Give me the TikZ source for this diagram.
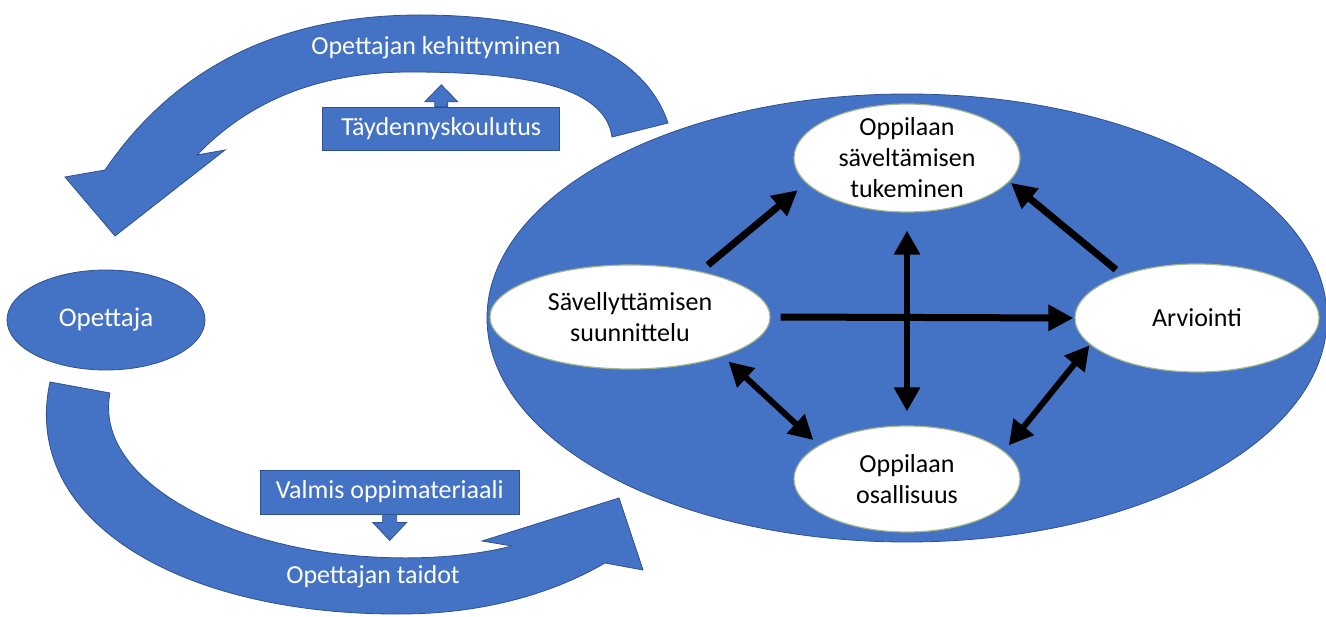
\documentclass[tikz,border=0pt]{standalone}
\usepackage{fontspec}
\setmainfont{Carlito}
\usetikzlibrary{arrows.meta,shapes.geometric}
\definecolor{obl}{RGB}{68,114,196}
\definecolor{obd}{RGB}{47,82,143}
\definecolor{wbd}{RGB}{165,185,140}
\begin{document}
\begin{tikzpicture}[x=1pt,y=-1pt,
  band/.style={fill=obl, draw=obd, line width=0.8pt, line join=miter},
  wtxt/.style={text=white, font=\fontsize{26}{31}\selectfont, inner sep=0},
  btxt/.style={text=black, font=\fontsize{26}{31}\selectfont, inner sep=0, align=center},
  wov/.style={ellipse, fill=white, draw=wbd, line width=1.2pt, inner sep=0},
  bluebox/.style={rectangle, fill=obl, draw=obd, line width=0.8pt, inner sep=0, text=white, font=\fontsize{26}{31}\selectfont},
  link/.style={draw=black, line width=7pt, -{Triangle[length=25pt,width=25pt]}},
  blink/.style={draw=black, line width=6pt, {Triangle[length=24pt,width=25pt]}-{Triangle[length=24pt,width=25pt]}},
]
\useasboundingbox (0,0) rectangle (1326,617);
\fill[white] (0,0) rectangle (1326,617);

% big cycle ellipse
\node[ellipse, fill=obl, draw=obd, line width=0.8pt, inner sep=0, minimum width=840, minimum height=448] (cyc) at (907,318) {};

% teacher
\node[ellipse, fill=obl, draw=obd, line width=0.8pt, inner sep=0, minimum width=198, minimum height=100, text=white, font=\fontsize{27}{31}\selectfont] (opettaja) at (106,320) {Opettaja};

% top curved arrow
\path[band] (668,123) .. controls (640,40) and (530,15) .. (420,15)
  .. controls (290,15) and (180,60) .. (105,170) -- (65,177) -- (115,236) -- (225,150) -- (197,155)
  .. controls (250,100) and (320,72) .. (410,72) .. controls (520,72) and (605,85) .. (612,137) -- cycle;
\node[wtxt] (kehit) at (436,48) {Opettajan kehittyminen};

% bottom curved arrow
\path[band] (50,382) .. controls (20,520) and (180,615) .. (400,614)
  .. controls (480,614) and (550,595) .. (605,563) -- (643,570) -- (619,498) -- (482,541) -- (512,546)
  .. controls (465,558) and (400,562) .. (330,553) .. controls (200,535) and (95,470) .. (110,393) -- cycle;
\node[wtxt] (taidot) at (373,577) {Opettajan taidot};

% boxes with small block arrows
\node[bluebox, minimum width=237, minimum height=43] (tk) at (441.3,128.7) {Täydennyskoulutus};
\path[band] (tk.north) ++(-6.5,0) -- ++(0,-5) -- ++(-10,0) -- ++(16.5,-17) -- ++(16.5,17) -- ++(-10,0) -- ++(0,5) -- cycle;

\node[bluebox, minimum width=259, minimum height=44] (vo) at (389.7,492) {Valmis oppimateriaali};
\path[band] (vo.south) ++(-7,0) -- ++(0,8) -- ++(-10,0) -- ++(17,18) -- ++(17,-18) -- ++(-10,0) -- ++(0,-8) -- cycle;

% inner white ellipses
\node[wov, minimum width=226, minimum height=108] (T) at (907,158) {};
\node[wov, minimum width=280, minimum height=104] (L) at (630,317) {};
\node[wov, minimum width=244, minimum height=108] (R) at (1197,318) {};
\node[wov, minimum width=226, minimum height=106] (B) at (907,479) {};

\node[btxt] at (T) {Oppilaan\\säveltämisen\\tukeminen};
\node[btxt] at (L) {Sävellyttämisen\\suunnittelu};
\node[btxt] at (R) {Arviointi};
\node[btxt] at (B) {Oppilaan\\osallisuus};

% connectors
\draw[link, shorten <=10pt, shorten >=11pt] (L.33.4) -- (T.194.9);
\draw[link, shorten <=8pt, shorten >=2pt] (R.150.5) -- (T.-13.8);
\draw[link, shorten <=10pt, shorten >=1pt] (L.east) -- (R.west);
\draw[blink, shorten <=18pt, shorten >=14pt] (T.south) -- (B.north);
\draw[blink, shorten <=7.6pt, shorten >=7.6pt] (L.-23.1) -- (B.159.3);
\draw[blink, shorten <=1pt, shorten >=7.5pt] (R.194.2) -- (B.16.9);
\end{tikzpicture}
\end{document}
